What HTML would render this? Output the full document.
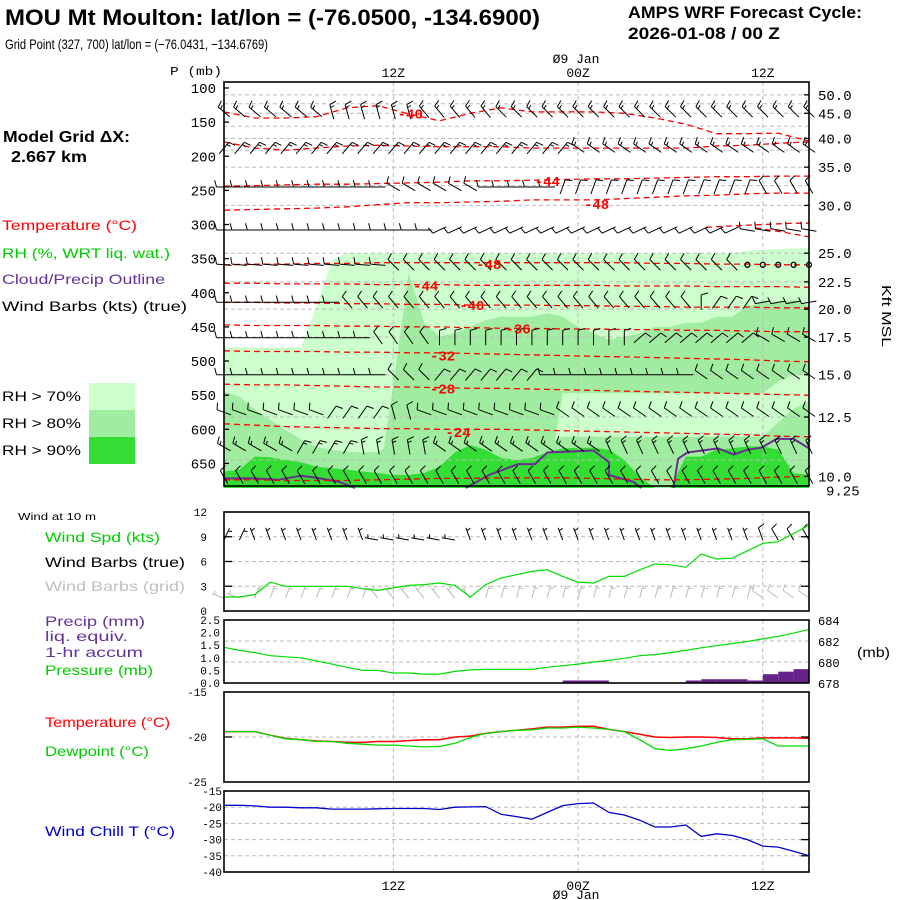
<!DOCTYPE html>
<html><head><meta charset="utf-8"><title>AMPS WRF Meteogram MOU</title>
<style>
html,body{margin:0;padding:0;background:#fff;}
svg{display:block;}
text{font-family:"Liberation Mono","DejaVu Sans Mono",monospace;}
.hd{font-family:"Liberation Sans","DejaVu Sans",sans-serif;font-weight:bold;}
.ss{font-family:"Liberation Sans","DejaVu Sans",sans-serif;}
</style></head>
<body>
<svg id="chart" xmlns="http://www.w3.org/2000/svg" width="900" height="900" viewBox="0 0 900 900">
<rect x="0" y="0" width="900" height="900" fill="#fff"/>
<text class="hd" x="5" y="25" font-size="22" textLength="535" lengthAdjust="spacingAndGlyphs">MOU Mt Moulton:  lat/lon = (-76.0500, -134.6900)</text>
<text class="ss" x="5" y="49" font-size="14" textLength="263" lengthAdjust="spacingAndGlyphs">Grid Point (327, 700) lat/lon = (−76.0431, −134.6769)</text>
<text class="hd" x="628" y="18" font-size="17" textLength="234" lengthAdjust="spacingAndGlyphs">AMPS WRF Forecast Cycle:</text>
<text class="hd" x="628" y="39" font-size="17" textLength="152" lengthAdjust="spacingAndGlyphs">2026-01-08 / 00  Z</text>
<text x="170" y="75" font-size="12" textLength="52" lengthAdjust="spacingAndGlyphs">P (mb)</text>
<text class="hd" x="3" y="142" font-size="16" textLength="127" lengthAdjust="spacingAndGlyphs">Model Grid ΔX:</text>
<text class="hd" x="11" y="162" font-size="16" textLength="76" lengthAdjust="spacingAndGlyphs">2.667 km</text>
<text class="ss" x="2" y="230" font-size="14" fill="#ff0000" textLength="135" lengthAdjust="spacingAndGlyphs">Temperature (°C)</text>
<text class="ss" x="2" y="258" font-size="14" fill="#00cc00" textLength="168" lengthAdjust="spacingAndGlyphs">RH (%, WRT liq. wat.)</text>
<text class="ss" x="2" y="284" font-size="14" fill="#663399" textLength="163" lengthAdjust="spacingAndGlyphs">Cloud/Precip Outline</text>
<text class="ss" x="2" y="311" font-size="14" fill="#000" textLength="185" lengthAdjust="spacingAndGlyphs">Wind Barbs (kts) (true)</text>
<text class="ss" x="2" y="401" font-size="14" textLength="79" lengthAdjust="spacingAndGlyphs">RH &gt; 70%</text>
<text class="ss" x="2" y="428" font-size="14" textLength="79" lengthAdjust="spacingAndGlyphs">RH &gt; 80%</text>
<text class="ss" x="2" y="455" font-size="14" textLength="79" lengthAdjust="spacingAndGlyphs">RH &gt; 90%</text>
<rect x="89" y="383" width="46" height="27" fill="#ccffcc"/>
<rect x="89" y="410" width="46" height="27" fill="#a0eca0"/>
<rect x="89" y="437" width="46" height="27" fill="#33dd33"/>
<text class="ss" x="0" y="0" font-size="13" transform="translate(882,285) rotate(90)" textLength="62" lengthAdjust="spacingAndGlyphs">Kft MSL</text>
<text class="ss" x="18" y="520" font-size="10" textLength="78" lengthAdjust="spacingAndGlyphs">Wind at 10 m</text>
<text class="ss" x="45" y="542" font-size="14" fill="#00cc00" textLength="115" lengthAdjust="spacingAndGlyphs">Wind Spd (kts)</text>
<text class="ss" x="45" y="567" font-size="14" textLength="140" lengthAdjust="spacingAndGlyphs">Wind Barbs (true)</text>
<text class="ss" x="45" y="591" font-size="14" fill="#c0c0c0" textLength="140" lengthAdjust="spacingAndGlyphs">Wind Barbs (grid)</text>
<text class="ss" x="45" y="626" font-size="14" fill="#663399" textLength="100" lengthAdjust="spacingAndGlyphs">Precip (mm)</text>
<text class="ss" x="45" y="641" font-size="14" fill="#663399" textLength="83" lengthAdjust="spacingAndGlyphs">liq. equiv.</text>
<text class="ss" x="45" y="657" font-size="14" fill="#663399" textLength="98" lengthAdjust="spacingAndGlyphs">1-hr accum</text>
<text class="ss" x="45" y="675" font-size="14" fill="#00cc00" textLength="108" lengthAdjust="spacingAndGlyphs">Pressure (mb)</text>
<text class="ss" x="857" y="657" font-size="14" textLength="33" lengthAdjust="spacingAndGlyphs">(mb)</text>
<text class="ss" x="45" y="727" font-size="14" fill="#ff0000" textLength="125" lengthAdjust="spacingAndGlyphs">Temperature (°C)</text>
<text class="ss" x="45" y="756" font-size="14" fill="#00cc00" textLength="104" lengthAdjust="spacingAndGlyphs">Dewpoint (°C)</text>
<text class="ss" x="45" y="836" font-size="14" fill="#0000cc" textLength="130" lengthAdjust="spacingAndGlyphs">Wind Chill T (°C)</text>
<g id="layer"></g>
</svg>
<script>
// ===== data =====
const hours = [0,1,2,3,4,5,6,7,8,9,10,11,12,13,14,15,16,17,18,19,20,21,22,23,24,25,26,27,28,29,30,31,32,33,34,35,36,37,38];
const timeTickHours = [11,23,35];
const timeTickLabels = ['12Z','00Z','12Z'];
const dateLabel = 'Ø9 Jan';
const pressureTicks = [100,150,200,250,300,350,400,450,500,550,600,650];
const kftLabels = ['50.0','45.0','40.0','35.0','30.0','25.0','22.5','20.0','17.5','15.0','12.5','10.0','9.25'];
const kftPressures = [110,137,174,216,272,342,384,424,465,520,582,669,690];
const kftGridPressures = [110,137,174,216,272,342,384,424,465,520,582,645,123,156,191,243];
// RH shading boundaries (mb) per hour
const rhLightTop = [480,480,480,480,480,480,420,352,342,342,342,342,342,342,342,342,342,342,342,342,342,342,342,342,342,342,342,342,342,342,342,342,342,342,338,337,336,335,335];
const rhMidUpperTop = [686,686,686,686,686,686,686,686,686,686,686,535,371,444,464,459,450,440,435,435,435,430,435,450,459,469,464,459,450,450,444,444,435,435,420,415,415,410,420];
const rhMidUpperBot = [686,686,686,686,686,686,686,686,686,686,686,686,686,686,686,686,686,686,686,686,686,686,547,547,547,547,547,547,547,547,547,547,547,547,547,547,530,520,520];
const rhMidLowerTop = [545,552,571,586,601,615,626,630,633,634,633,620,620,620,620,620,620,620,620,620,620,620,611,611,611,611,611,611,611,611,611,611,611,611,611,611,590,570,560];
const rhDarkTop = [662,659,640,641,645,648,655,657,659,662,664,667,667,664,655,634,623,630,642,645,642,634,628,627,627,630,645,670,686,686,640,640,630,628,625,625,630,664,667];
// cloud outline segments (hour, mb)
const cloud1Hours = [0,2,3.5,5,6,7.5,8.5];
const cloud1P = [672,672,674,668,671,677,686];
const cloud2Hours = [15.7,17.2,19.1,20.2,21.0,24.0,25.0,25.0,26.6,27.1];
const cloud2P = [686,667,651,651,634,631,648,667,677,686];
const cloud3Hours = [29.2,29.5,30.1,32.1,33.1,34.0,34.9,35.9,37.0,38];
const cloud3P = [686,643,634,628,637,630,627,614,614,628];
// temperature contours: knot hours and pressures
const tcHours = [0,2,4,6,8,10,12,14,16,18,20,22,24,26,28,30,32,34,36,38];
const tcC1 = [135,144,144,142,129,126,138,148,137,129,135,135,135,137,144,153,167,167,166,178];
const tcC2 = [179,188,191,188,185,184,185,186,186,186,188,188,188,188,188,188,185,184,181,179];
const tcC3 = [244,243,242,241,241,240,239,238,236,236,235,234,233,233,232,231,230,230,229,229];
const tcC4 = [279,278,277,276,274,271,268,268,267,266,264,264,264,262,260,258,257,255,254,254];
const tcL1 = [359,358,358,357,357,356,356,356,356,356,356,356,356,356,357,357,358,358,359,359];
const tcL2 = [386,386,387,387,387,388,388,388,389,389,389,389,389,390,390,390,391,391,391,392];
const tcL3 = [414,414,415,415,416,416,417,417,418,418,418,419,419,420,420,421,421,421,422,422];
const tcL4 = [447,448,448,448,449,449,450,450,451,452,452,453,453,454,454,455,455,456,457,457];
const tcL5 = [485,486,486,486,487,487,488,488,489,490,491,492,493,494,495,496,497,498,500,501];
const tcL6 = [534,535,535,536,537,538,538,539,540,540,541,542,543,544,545,546,547,548,549,550];
const tcL7 = [592,594,596,597,598,599,599,600,600,600,601,602,603,604,605,606,607,608,610,611];
const tcL8 = [674,674,675,675,675,674,673,672,672,671,671,671,672,673,674,674,673,672,670,669];
const tcC5aHours = [31.3,33,35,37,38];
const tcC5aP = [304,302,300,298,298];
const tcC5bHours = [34.5,36,38];
const tcC5bP = [305,310,318];
const tcLabelText = ['-40','-44','-48','-48','-44','-40','-36','-32','-28','-24'];
const tcLabelHour = [12.1,21.0,24.2,17.2,13.1,16.1,19.1,14.2,14.2,15.2];
const tcLabelP = [137,236,270,358,389,418,452,492,540,604];
// wind barbs (main panel): levels, run-length directions (count, staff angle deg), speeds
const barbLevels = [135,188,245,308,359,414,466,520,575,626,670];
const barbDirRuns = [
 [[7,-50],[6,-15],[5,-40],[21,-45]],
 [[23,40],[16,-55]],
 [[11,-90],[6,-60],[5,-90],[13,20],[4,-30]],
 [[14,-90],[20,-115],[5,-80]],
 [[11,-85],[23,-45],[5,-45]],
 [[8,-90],[23,-40],[1,0],[3,35],[4,-100]],
 [[10,-90],[4,-35],[13,0],[8,50],[4,-60]],
 [[11,-90],[3,-45],[7,40],[10,-90],[8,-55]],
 [[7,-70],[4,35],[2,-15],[9,-70],[17,-55]],
 [[5,-60],[4,30],[5,-10],[11,-55],[14,-25]],
 [[39,-30]]
];
const barbSpdRuns = [
 [[39,15]],[[39,15]],[[39,10]],[[39,10]],[[34,10],[5,0]],[[39,10]],[[39,10]],[[39,10]],[[39,10]],[[39,15]],[[39,10]]
];
// 10 m wind
const windSpd = [1.7,1.7,2.0,3.5,3.0,3.0,3.0,3.0,3.0,2.7,2.5,2.8,3.1,3.2,3.4,3.1,1.7,3.2,4.0,4.4,4.8,5.0,4.2,3.5,3.4,4.2,4.2,5.0,5.7,5.6,5.3,6.9,6.3,6.4,7.3,8.2,8.4,9.4,10.4];
const windDirTrue = [25,25,-20,-20,-20,-20,-20,-20,-20,-20,-80,-80,-80,-80,-80,-80,-20,-20,-20,-20,-20,-20,-20,-20,-20,-20,-20,-20,-20,-20,-20,-20,-20,-20,-20,-20,-30,-30,-30];
const windDirGrid = [-70,-70,20,20,20,20,20,20,20,20,-40,-40,-40,-40,-40,-40,-40,15,15,15,15,15,15,15,15,15,15,15,15,15,15,15,15,15,15,-55,-55,-55,-55];
const windSpdTicks = [0,3,6,9,12];
// precip & pressure
const precip = [0,0,0,0,0,0,0,0,0,0,0,0,0,0,0,0,0,0,0,0,0,0,0,0.1,0.1,0.1,0,0,0,0,0,0.1,0.15,0.15,0.15,0.1,0.35,0.45,0.55];
const sfcPressure = [681.4,681.1,680.9,680.6,680.5,680.4,680.1,679.8,679.5,679.2,679.2,678.95,678.95,678.85,678.85,679.1,679.25,679.3,679.3,679.3,679.3,679.5,679.65,679.8,680.0,680.15,680.35,680.6,680.7,680.9,681.1,681.35,681.55,681.75,681.95,682.2,682.45,682.75,683.1];
const precipTicks = ['0.0','0.5','1.0','1.5','2.0','2.5'];
const presTicks = [678,680,682,684];
// temperature / dewpoint
const sfcTemp = [-19.4,-19.4,-19.4,-19.8,-20.15,-20.3,-20.45,-20.5,-20.6,-20.6,-20.5,-20.5,-20.4,-20.3,-20.3,-20.0,-19.9,-19.6,-19.4,-19.25,-19.1,-18.9,-18.9,-18.8,-18.8,-19.15,-19.4,-19.7,-20.0,-20.05,-20.0,-20.0,-20.05,-20.2,-20.2,-20.1,-20.1,-20.1,-20.15];
const sfcDew = [-19.4,-19.4,-19.4,-19.8,-20.2,-20.3,-20.5,-20.5,-20.7,-20.8,-20.9,-20.9,-21.0,-21.1,-21.05,-20.7,-20.05,-19.6,-19.4,-19.25,-19.2,-19.0,-19.0,-18.9,-19.0,-19.15,-19.4,-20.3,-21.3,-21.5,-21.3,-21.0,-20.6,-20.3,-20.25,-20.2,-21.0,-21.0,-21.0];
const tempTicks = [-15,-20,-25];
// wind chill
const windChill = [-19.4,-19.4,-19.6,-20.0,-20.0,-20.2,-20.2,-20.6,-20.6,-20.6,-20.5,-20.4,-20.4,-20.4,-20.7,-20.0,-19.9,-19.8,-22.2,-22.9,-23.7,-21.6,-19.5,-18.9,-18.7,-21.6,-22.4,-24.0,-26.1,-26.1,-25.5,-29.0,-28.2,-28.7,-30.0,-32.0,-32.3,-33.6,-35.0];
const chillTicks = [-15,-20,-25,-30,-35,-40];

// ===== axes =====
const X0 = 224, X1 = 809;
function xT(h){ return X0 + h * (X1 - X0) / 38; }
function yP(p){ return 88 + (p - 100) * 0.6826; }
function ySpd(v){ return 611 - v * 99 / 12; }
function yPr(mm){ return 683 - mm * 63 / 2.5; }
function yPres(mb){ return 683 - (mb - 678) * 63 / 6; }
function yT(t){ return 692 + (-15 - t) * 9; }
function yWC(t){ return 791 + (-15 - t) * 81 / 25; }
function expand(runs){ const out=[]; runs.forEach(r=>{ for(let i=0;i<r[0];i++) out.push(r[1]); }); return out; }

const NS = 'http://www.w3.org/2000/svg';
const layer = document.getElementById('layer');
function mk(tag, attrs, parent){
  const e = document.createElementNS(NS, tag);
  for (const k in attrs) e.setAttribute(k, attrs[k]);
  (parent || layer).appendChild(e);
  return e;
}
function pts(xs, ys){ return xs.map((x,i)=>x.toFixed(1)+','+ys[i].toFixed(1)).join(' '); }
const GRID = {stroke:'#bbbbbb','stroke-width':1,'stroke-dasharray':'4,3',fill:'none'};

// ===== main panel: RH shading =====
const PBOT = 686;
function bandPoly(top, bot, fill, name){
  const up = hours.map(h=>xT(h).toFixed(1)+','+yP(Math.min(top[h],PBOT)).toFixed(1));
  const dn = hours.slice().reverse().map(h=>xT(h).toFixed(1)+','+yP(Math.min(bot[h],PBOT)).toFixed(1));
  const e = mk('polygon',{points:up.concat(dn).join(' '),fill:fill});
  
  
}
const bottomArr = hours.map(()=>PBOT);
bandPoly(rhLightTop, bottomArr, '#ccffcc', 'rh-70-region');
bandPoly(rhMidLowerTop, bottomArr, '#a0eca0', 'rh-80-region-lower');
bandPoly(rhMidUpperTop, rhMidUpperBot, '#a0eca0', 'rh-80-region-upper');
bandPoly(rhDarkTop, bottomArr, '#33dd33', 'rh-90-region');

kftGridPressures.forEach(p=>{
  const y = yP(p);
  const e = mk('line', Object.assign({x1:X0,x2:X1,y1:y,y2:y},GRID));
  
  
});
function vgrid(y0,y1){
  timeTickHours.forEach(h=>{
    const e = mk('line', Object.assign({x1:xT(h),x2:xT(h),y1:y0,y2:y1},GRID));
    
    
  });
}
vgrid(82,486);

[[cloud1Hours,cloud1P],[cloud2Hours,cloud2P],[cloud3Hours,cloud3P]].forEach(c=>{
  const e = mk('polyline',{points:pts(c[0].map(xT), c[1].map(yP)),fill:'none',stroke:'#6a2c91','stroke-width':2});
  
  
});

[tcC1,tcC2,tcC3,tcC4,tcL1,tcL2,tcL3,tcL4,tcL5,tcL6,tcL7,tcL8].forEach(arr=>{
  const e = mk('polyline',{points:pts(tcHours.map(xT), arr.map(yP)),fill:'none',stroke:'#ff0000','stroke-width':1.3,'stroke-dasharray':'6,4'});
  
  
});
[[tcC5aHours,tcC5aP],[tcC5bHours,tcC5bP]].forEach(c=>{
  const e = mk('polyline',{points:pts(c[0].map(xT), c[1].map(yP)),fill:'none',stroke:'#ff0000','stroke-width':1.3,'stroke-dasharray':'6,4'});
  
  
});

function barbPath(x, y, ang, spd, L, anchor){
  if (spd < 2.5) return null;
  const a = ang*Math.PI/180, dx = Math.sin(a), dy = -Math.cos(a);
  let bx = x, by = y;
  if (anchor === 'center'){ bx = x - dx*L/2; by = y - dy*L/2; }
  const ex = bx + dx*L, ey = by + dy*L;
  let d = 'M'+bx.toFixed(1)+','+by.toFixed(1)+'L'+ex.toFixed(1)+','+ey.toFixed(1);
  const fa = a + 75*Math.PI/180, fx = Math.sin(fa), fy = -Math.cos(fa);
  let n10 = Math.floor(spd/10), n5 = Math.round((spd%10)/5);
  if (n5 === 2){ n10++; n5 = 0; }
  let k = 0;
  for (let i=0;i<n10;i++,k++){
    const sx = ex - dx*3*k, sy = ey - dy*3*k;
    d += 'M'+sx.toFixed(1)+','+sy.toFixed(1)+'l'+(fx*7).toFixed(1)+','+(fy*7).toFixed(1);
  }
  for (let i=0;i<n5;i++,k++){
    const kk = (k===0 && n10===0) ? 1 : k;
    const sx = ex - dx*3*kk, sy = ey - dy*3*kk;
    d += 'M'+sx.toFixed(1)+','+sy.toFixed(1)+'l'+(fx*4).toFixed(1)+','+(fy*4).toFixed(1);
  }
  return d;
}
barbLevels.forEach((p, r)=>{
  const dirs = expand(barbDirRuns[r]);
  const spds = expand(barbSpdRuns[r]);
  hours.forEach(h=>{
    const x = xT(h), y = yP(p);
    const d = barbPath(x, y, dirs[h], spds[h], 15, 'center');
    if (d === null){
      const c = mk('circle',{cx:x,cy:y,r:2.5,fill:'none',stroke:'#000','stroke-width':1.3});
      
      
    } else {
      const e = mk('path',{d:d,stroke:'#000','stroke-width':1,fill:'none'});
      
      
    }
  });
});

tcLabelText.forEach((t,i)=>{
  const e = mk('text',{x:xT(tcLabelHour[i]),y:yP(tcLabelP[i])+5,'text-anchor':'middle',fill:'#ff0000','font-size':14,'font-weight':'bold','font-family':'Liberation Sans, sans-serif'});
  e.textContent = t;
  
  
});

function frame(y0,y1,name){
  const e = mk('rect',{x:X0,y:y0,width:X1-X0,height:y1-y0,fill:'none',stroke:'#000','stroke-width':1.6});
  
  
}
frame(82,486,'main-panel-frame');
pressureTicks.forEach(p=>{
  const y = yP(p);
  const t = mk('line',{x1:X0,x2:X0+5,y1:y,y2:y,stroke:'#000','stroke-width':1.3});
  
  
  const e = mk('text',{x:216,y:y+5,'text-anchor':'end','font-size':14});
  e.textContent = String(p);
  
  
});
kftLabels.forEach((lab,i)=>{
  const y = yP(kftPressures[i]);
  const e = mk('text',{x: lab==='9.25' ? 826 : 818, y: y+5,'font-size':14});
  e.textContent = lab;
  
  
  if (lab !== '9.25'){
    const t = mk('line',{x1:X1-5,x2:X1,y1:y,y2:y,stroke:'#000','stroke-width':1.3});
    
    
  }
});
function timeLabels(yTime, yDate, nm){
  timeTickHours.forEach((h,i)=>{
    const e = mk('text',{x:xT(h),y:yTime,'text-anchor':'middle','font-size':13});
    e.textContent = timeTickLabels[i];
    
    
  });
  const d = mk('text',{x:xT(23)-2,y:yDate,'text-anchor':'middle','font-size':13});
  d.textContent = dateLabel;
  
  
}
timeLabels(77, 63, 'top');
timeLabels(890, 899, 'bottom');

// ===== wind panel =====
[3,6,9].forEach(v=>{
  const e = mk('line', Object.assign({x1:X0,x2:X1,y1:ySpd(v),y2:ySpd(v)},GRID));
  
  
});
vgrid(512,611);
hours.forEach(h=>{
  const dg = barbPath(xT(h), 598, windDirGrid[h], Math.max(windSpd[h],5), 13, 'base');
  const g = mk('path',{d:dg,stroke:'#bbbbbb','stroke-width':1,fill:'none'});
  
  
  const dt = barbPath(xT(h), 540, windDirTrue[h], Math.max(windSpd[h],5), 13, 'base');
  const t = mk('path',{d:dt,stroke:'#000','stroke-width':1,fill:'none'});
  
  
});
{
  const e = mk('polyline',{points:pts(hours.map(xT), windSpd.map(ySpd)),fill:'none',stroke:'#00dd00','stroke-width':1.2});
  
  
}
frame(512,611,'wind-panel-frame');
windSpdTicks.forEach(v=>{
  const e = mk('text',{x:207,y:ySpd(v)+4,'text-anchor':'end','font-size':11});
  e.textContent = String(v);
  
  
  if (v>0 && v<12){
    const t = mk('line',{x1:X1-8,x2:X1,y1:ySpd(v),y2:ySpd(v),stroke:'#000','stroke-width':1.3});
    
    
    const t2 = mk('line',{x1:X0,x2:X0+8,y1:ySpd(v),y2:ySpd(v),stroke:'#000','stroke-width':1.3});
    
    
  }
});

// ===== precip / pressure panel =====
[680,682].forEach(v=>{
  const e = mk('line', Object.assign({x1:X0,x2:X1,y1:yPres(v),y2:yPres(v)},GRID));
  
  
});
vgrid(620,683);
hours.forEach(h=>{
  if (precip[h] > 0){
    const e = mk('rect',{x:xT(h-1),y:yPr(precip[h]),width:xT(h)-xT(h-1),height:683-yPr(precip[h]),fill:'#662288'});
    
    
  }
});
{
  const e = mk('polyline',{points:pts(hours.map(xT), sfcPressure.map(yPres)),fill:'none',stroke:'#00dd00','stroke-width':1.2});
  
  
}
frame(620,683,'precip-panel-frame');
precipTicks.forEach(t=>{
  const e = mk('text',{x:220,y:yPr(parseFloat(t))+4,'text-anchor':'end','font-size':11});
  e.textContent = t;
  
  
});
presTicks.forEach(v=>{
  const e = mk('text',{x:818,y:yPres(v)+5,'font-size':12});
  e.textContent = String(v);
  
  
});

// ===== temperature panel =====
{
  const e = mk('line', Object.assign({x1:X0,x2:X1,y1:yT(-20),y2:yT(-20)},GRID));
  
  
}
vgrid(692,782);
{
  const e = mk('polyline',{points:pts(hours.map(xT), sfcTemp.map(yT)),fill:'none',stroke:'#ff0000','stroke-width':1.5});
  
  
  const d = mk('polyline',{points:pts(hours.map(xT), sfcDew.map(yT)),fill:'none',stroke:'#00dd00','stroke-width':1.3});
  
  
}
frame(692,782,'temperature-panel-frame');
tempTicks.forEach(v=>{
  const e = mk('text',{x:207,y:yT(v)+4,'text-anchor':'end','font-size':11});
  e.textContent = String(v);
  
  
});
{
  const t = mk('line',{x1:X1-8,x2:X1,y1:yT(-20),y2:yT(-20),stroke:'#000','stroke-width':1.3});
  
  
  const t2 = mk('line',{x1:X0,x2:X0+8,y1:yT(-20),y2:yT(-20),stroke:'#000','stroke-width':1.3});
  
  
}

// ===== wind chill panel =====
[-20,-25,-30,-35].forEach(v=>{
  const e = mk('line', Object.assign({x1:X0,x2:X1,y1:yWC(v),y2:yWC(v)},GRID));
  
  
  const t = mk('line',{x1:X1-8,x2:X1,y1:yWC(v),y2:yWC(v),stroke:'#000','stroke-width':1.3});
  
  
});
vgrid(791,872);
{
  const e = mk('polyline',{points:pts(hours.map(xT), windChill.map(yWC)),fill:'none',stroke:'#0000cc','stroke-width':1.3});
  
  
}
frame(791,872,'wind-chill-panel-frame');
chillTicks.forEach(v=>{
  const e = mk('text',{x:222,y:yWC(v)+4,'text-anchor':'end','font-size':11});
  e.textContent = String(v);
  
  
});
</script>
</body></html>
